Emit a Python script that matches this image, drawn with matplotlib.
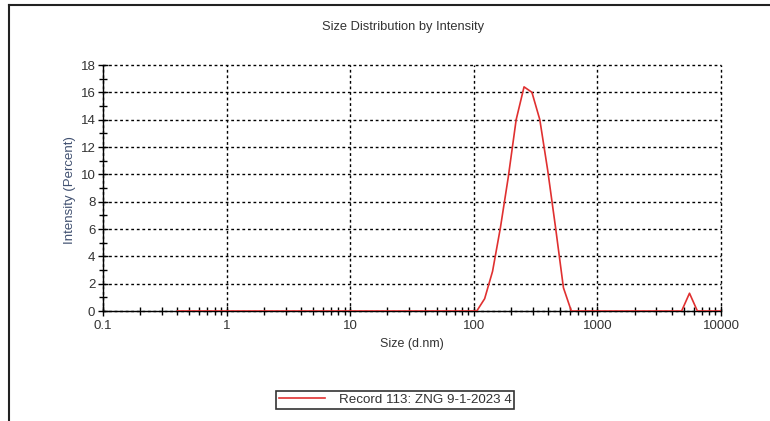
import matplotlib
matplotlib.use("Agg")
import matplotlib.pyplot as plt
from matplotlib.lines import Line2D
from matplotlib.ticker import LogLocator, MultipleLocator, FixedLocator

plt.rcParams['font.family'] = ['Liberation Sans', 'DejaVu Sans']

# size bins (d.nm) and intensity (%)
sizes = [0.4, 0.4632, 0.5365, 0.6213, 0.7195, 0.8332, 0.9649, 1.117, 1.294, 1.499,
         1.736, 2.010, 2.328, 2.696, 3.122, 3.615, 4.187, 4.849, 5.615, 6.503,
         7.531, 8.721, 10.10, 11.70, 13.54, 15.69, 18.17, 21.04, 24.36, 28.21,
         32.67, 37.84, 43.82, 50.75, 58.77, 68.06, 78.82, 91.28, 105.7, 122.4,
         141.8, 164.2, 190.1, 220.2, 255.0, 295.3, 342.0, 396.1, 458.7, 531.2,
         615.1, 712.4, 825.0, 955.4, 1106, 1281, 1484, 1718, 1990, 2305,
         2669, 3091, 3580, 4145, 4801, 5560, 6439, 7456, 8635, 10000]
intensity = [0.0] * 39 + [0.9, 2.9, 6.1, 9.8, 14.0, 16.4, 16.0, 14.0, 10.3, 6.1, 1.7,
                          0.0] + [0.0] * 14 + [1.3] + [0.0] * 4

record_label = "Record 113: ZNG 9-1-2023 4"
y_ticks = [0, 2, 4, 6, 8, 10, 12, 14, 16, 18]
x_ticks = [0.1, 1, 10, 100, 1000, 10000]
x_ticklabels = ["0.1", "1", "10", "100", "1000", "10000"]

txt = '#333333'
W, H = 770, 421
fig = plt.figure(figsize=(7.7, 4.21), dpi=100)
ax = fig.add_axes([103 / W, 1 - 311 / H, 618 / W, 246 / H])

ax.plot(sizes, intensity, color='#e03030', lw=1.2, label=record_label, zorder=3)

ax.set_xscale('log')
ax.set_xlim(0.1, 10000)
ax.set_ylim(0, 18)
ax.xaxis.set_major_locator(FixedLocator(x_ticks))
ax.set_xticklabels(x_ticklabels)
ax.xaxis.set_minor_locator(LogLocator(base=10, subs=range(2, 10)))
ax.xaxis.set_minor_formatter(plt.NullFormatter())
ax.set_yticks(y_ticks)
ax.yaxis.set_minor_locator(MultipleLocator(1))

ax.grid(True, which='major', color='black', linestyle=(0, (2, 2)), lw=1.0)
for gl in ax.get_xgridlines() + ax.get_ygridlines():
    gl.set_clip_on(False)
for s in ['top', 'right']:
    ax.spines[s].set_visible(False)
for s in ['left', 'bottom']:
    ax.spines[s].set_color('black')
    ax.spines[s].set_linewidth(1.0)

ax.tick_params(which='major', direction='inout', length=7, width=1, labelsize=9.5,
               labelcolor=txt, pad=2)
ax.tick_params(which='minor', direction='inout', length=6, width=1)
ax.tick_params(axis='x', which='major', pad=3)

ax.set_xlabel("Size (d.nm)", fontsize=9, color=txt, labelpad=4)
fig.text(70 / W, 1 - 190 / H, "Intensity (Percent)", rotation=90, ha='center',
         va='center', fontsize=9.5, color='#405070')
fig.text(403 / W, 1 - 27 / H, "Size Distribution by Intensity", ha='center',
         va='center', fontsize=9.3, color=txt)

leg = fig.legend(loc='center', bbox_to_anchor=(395 / W, 1 - 400 / H), fontsize=9.6,
                 frameon=True, fancybox=False, handlelength=3.5, borderpad=0.2,
                 handletextpad=1.0, borderaxespad=0)
leg.get_frame().set_edgecolor('black')
leg.get_frame().set_linewidth(1.2)
for t in leg.get_texts():
    t.set_color(txt)

# outer frame of the report panel (left and top edges)
fig.add_artist(Line2D([9 / W, 9 / W], [0, 1 - 5 / H], color='#222222', lw=1.5,
                      transform=fig.transFigure))
fig.add_artist(Line2D([9 / W, 1], [1 - 5 / H, 1 - 5 / H], color='#222222', lw=1.5,
                      transform=fig.transFigure))

fig.savefig("out.png", dpi=100)
